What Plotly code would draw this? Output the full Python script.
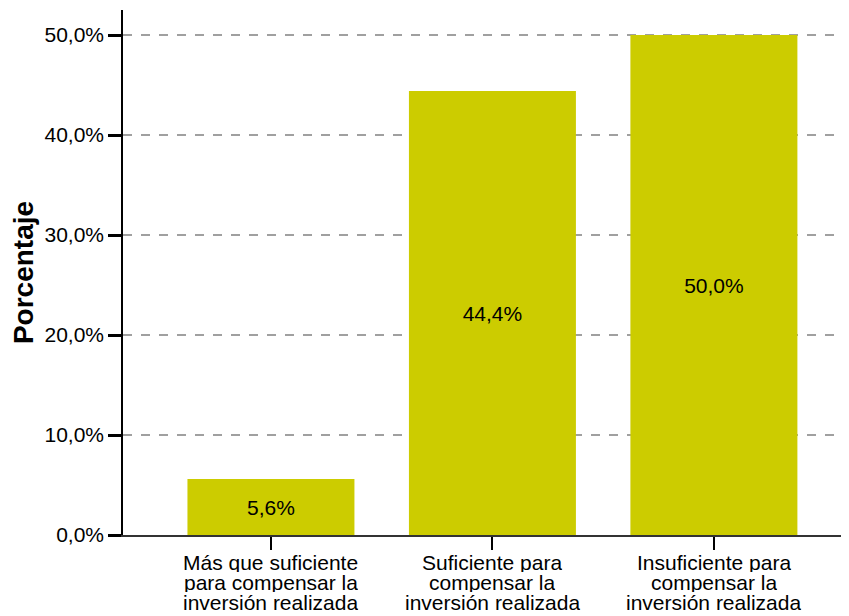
import plotly.graph_objects as go

category_lines = [
    ["Más que suficiente", "para compensar la", "inversión realizada"],
    ["Suficiente para", "compensar la", "inversión realizada"],
    ["Insuficiente para", "compensar la", "inversión realizada"],
]
values = [5.6, 44.4, 50.0]
labels = ["5,6%", "44,4%", "50,0%"]
tick_vals = [0, 10, 20, 30, 40, 50]
tick_text = ["0,0%", "10,0%", "20,0%", "30,0%", "40,0%", "50,0%"]

FONT = "Liberation Sans, Arial, Helvetica"
x = list(range(len(category_lines)))
fig = go.Figure(go.Bar(
    x=x, y=values, text=labels, textposition="inside", insidetextanchor="middle",
    textfont=dict(color="black", size=21, family=FONT),
    marker=dict(color="#CCCC00", line=dict(width=0)), width=0.754,
))

annotations = []
for i, lines in enumerate(category_lines):
    for j, line in enumerate(lines):
        annotations.append(dict(
            x=i, xref="x", y=0, yref="paper", yanchor="top", xanchor="center",
            text=line, showarrow=False, yshift=-16 - 20 * j, height=20,
            borderpad=0, valign="middle",
            font=dict(size=21, family=FONT, color="black"),
        ))

fig.update_layout(
    width=841, height=608, margin=dict(l=115, r=0, t=2, b=81, autoexpand=False),
    plot_bgcolor="white", paper_bgcolor="white",
    font=dict(family=FONT, size=21, color="black"),
    showlegend=False, annotations=annotations,
)
fig.update_xaxes(
    range=[-0.668, 2.61], tickmode="array", tickvals=x, showticklabels=False,
    ticks="outside", ticklen=13, tickwidth=2, tickcolor="black",
    showline=True, linecolor="#333333", linewidth=1.5, showgrid=False,
    zeroline=False,
)
fig.update_yaxes(
    range=[0, 52.5], tickmode="array", tickvals=tick_vals, ticktext=tick_text,
    ticks="outside", ticklen=13, tickwidth=3, tickcolor="black",
    showline=True, linecolor="black", linewidth=1.5,
    showgrid=True, gridcolor="#A0A0A0", griddash="dash", gridwidth=1.5,
    zeroline=False,
    title=dict(text="<b>Porcentaje</b>", font=dict(size=28, family=FONT), standoff=4),
    tickfont=dict(size=21),
)
fig.write_html("out.html")
